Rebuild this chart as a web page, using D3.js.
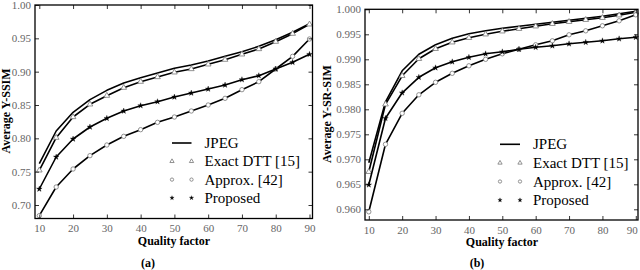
<!DOCTYPE html>
<html><head><meta charset="utf-8">
<script src="https://cdn.jsdelivr.net/npm/d3@7"></script>
<style>body{margin:0;background:#fff;} svg{display:block;}</style>
</head><body><svg id="c" width="640" height="270"></svg>
<script>
const quality = [10,15,20,25,30,35,40,45,50,55,60,65,70,75,80,85,90];
const seriesNames = ["JPEG","Exact DTT [15]","Approx. [42]","Proposed"];
// Panel (a): Average Y-SSIM
const ssimJPEG   = [0.762,0.811,0.839,0.858,0.872,0.883,0.891,0.898,0.905,0.910,0.916,0.923,0.930,0.938,0.948,0.959,0.972];
const ssimDTT    = [0.752,0.801,0.832,0.851,0.864,0.876,0.885,0.892,0.899,0.904,0.911,0.918,0.926,0.934,0.945,0.957,0.971];
const ssimApprox = [0.684,0.727,0.754,0.774,0.790,0.803,0.813,0.824,0.832,0.841,0.850,0.860,0.873,0.885,0.904,0.923,0.949];
const ssimProp   = [0.724,0.772,0.799,0.817,0.830,0.841,0.849,0.855,0.862,0.868,0.874,0.880,0.888,0.894,0.904,0.914,0.926];
// Panel (b): Average Y-SR-SIM
const srJPEG   = [0.9693,0.9815,0.9877,0.9910,0.9929,0.9942,0.9951,0.9957,0.9962,0.9966,0.9970,0.9974,0.9978,0.9982,0.9986,0.9991,0.9996];
const srDTT    = [0.9675,0.9810,0.9867,0.9901,0.9921,0.9934,0.9943,0.9950,0.9956,0.9961,0.9966,0.9971,0.9975,0.9979,0.9983,0.9988,0.9994];
const srApprox = [0.9595,0.9730,0.9792,0.9829,0.9854,0.9872,0.9887,0.9900,0.9911,0.9920,0.9929,0.9937,0.9949,0.9957,0.9967,0.9977,0.9989];
const srProp   = [0.9649,0.9782,0.9833,0.9864,0.9883,0.9895,0.9904,0.9911,0.9915,0.9920,0.9924,0.9927,0.9931,0.9934,0.9937,0.9941,0.9944];
const xTicks = [10,20,30,40,50,60,70,80,90];
const yTicksA = [0.70,0.75,0.80,0.85,0.90,0.95,1.00];
const yTicksB = [0.960,0.965,0.970,0.975,0.980,0.985,0.990,0.995,1.000];

const svg = d3.select("#c");
const markers = ["none","triangle","circle","star"];

function drawMarker(g, type, x, y, small){
  const s = small ? 0.75 : 1;
  if(type==="triangle"){
    g.append("path").attr("d", d3.symbol(d3.symbolTriangle, 14*s*s)()).attr("transform",`translate(${x},${y})`)
     .attr("fill","#fff").attr("stroke","#777").attr("stroke-width",0.8);
  } else if(type==="circle"){
    g.append("circle").attr("cx",x).attr("cy",y).attr("r",2.2*s)
     .attr("fill","#fff").attr("stroke","#777").attr("stroke-width",0.8);
  } else if(type==="star"){
    g.append("path").attr("d", d3.symbol(d3.symbolStar, 10*s*s)()).attr("transform",`translate(${x},${y})`)
     .attr("fill","#000").attr("stroke","#000").attr("stroke-width",0.3);
  }
}

function panel(cfg){
  const g = svg.append("g");
  const x = d3.scaleLinear().domain([10,90]).range(cfg.xr);
  const y = d3.scaleLinear().domain(cfg.yd).range(cfg.yr);
  const L=cfg.frame[0], R=cfg.frame[1], T=cfg.frame[2], B=cfg.frame[3];
  const line = d3.line().x((d,i)=>x(quality[i])).y(d=>y(d));
  cfg.data.forEach((vals,k)=>{
    g.append("path").attr("d",line(vals)).attr("fill","none").attr("stroke","#000").attr("stroke-width",1.6).attr("stroke-linejoin","round");
    if(markers[k]!=="none") vals.forEach((v,i)=>drawMarker(g,markers[k],x(quality[i]),y(v),false));
  });
  g.append("rect").attr("x",L).attr("y",T).attr("width",R-L).attr("height",B-T).attr("fill","none").attr("stroke","#000").attr("stroke-width",1.3);
  const ax = g.append("g").attr("transform",`translate(0,${B})`).call(d3.axisBottom(x).tickValues(xTicks).tickSize(-4).tickPadding(6).tickFormat(d3.format("d")));
  const axT = g.append("g").attr("transform",`translate(0,${T})`).call(d3.axisTop(x).tickValues(xTicks).tickSize(-4).tickFormat(""));
  const ay = g.append("g").attr("transform",`translate(${L},0)`).call(d3.axisLeft(y).tickValues(cfg.yt).tickSize(-4).tickPadding(4).tickFormat(d3.format(cfg.fmt)));
  const ayR = g.append("g").attr("transform",`translate(${R},0)`).call(d3.axisRight(y).tickValues(cfg.yt).tickSize(-4).tickFormat(""));
  [ax,axT,ay,ayR].forEach(a=>{a.select(".domain").remove(); a.selectAll(".tick line").attr("stroke","#000").attr("stroke-width",0.8);
    a.selectAll("text").attr("font-family","Liberation Serif").attr("font-size",11).attr("fill","#666");});
  if(cfg.lastDx) ax.selectAll(".tick text").filter(d=>d===90).attr("dx",cfg.lastDx);
  g.append("text").attr("x",cfg.xlab[0]).attr("y",cfg.xlab[1]).attr("text-anchor","middle")
   .attr("font-family","Liberation Serif").attr("font-weight","bold").attr("font-size",12).text("Quality factor");
  g.append("text").attr("transform",`translate(${cfg.ylab[0]},${cfg.ylab[1]}) rotate(-90)`).attr("text-anchor","middle")
   .attr("font-family","Liberation Serif").attr("font-weight","bold").attr("font-size",12).text(cfg.ytitle);
  g.append("text").attr("x",cfg.cap[0]).attr("y",cfg.cap[1]).attr("text-anchor","middle")
   .attr("font-family","Liberation Serif").attr("font-weight","bold").attr("font-size",12).text(cfg.caption);
  const lg = g.append("g");
  seriesNames.forEach((name,k)=>{
    const ly = cfg.leg[1] + k*cfg.leg[3];
    const x0 = cfg.leg[0], x1 = cfg.leg[0]+cfg.leg[2];
    if(k===0) lg.append("line").attr("x1",x0).attr("x2",x1).attr("y1",ly).attr("y2",ly).attr("stroke","#000").attr("stroke-width",1.6);
    else { drawMarker(lg,markers[k],x0,ly,true); drawMarker(lg,markers[k],x1,ly,true); }
    lg.append("text").attr("x",x1+13).attr("y",ly+5).attr("font-family","Liberation Serif").attr("font-size",15).attr("fill","#000").text(name);
  });
}

panel({xr:[39.3,309.5], yd:[0.70,1.00], yr:[205,5], frame:[35,312.5,5,218.5], yt:yTicksA, fmt:".2f",
  data:[ssimJPEG,ssimDTT,ssimApprox,ssimProp], xlab:[174,245], ylab:[10,111], ytitle:"Average Y-SSIM",
  cap:[148,267], caption:"(a)", leg:[172,143,19.5,18.3]});
panel({xr:[368.8,635.8], yd:[0.960,1.000], yr:[209.3,9.3], frame:[365,638,9.3,220], yt:yTicksB, fmt:".3f",
  data:[srJPEG,srDTT,srApprox,srProp], xlab:[502,246], ylab:[331,114], ytitle:"Average Y-SR-SIM",
  cap:[477,267], caption:"(b)", leg:[500,144.3,20,18.6], lastDx:-4});
</script></body></html>
